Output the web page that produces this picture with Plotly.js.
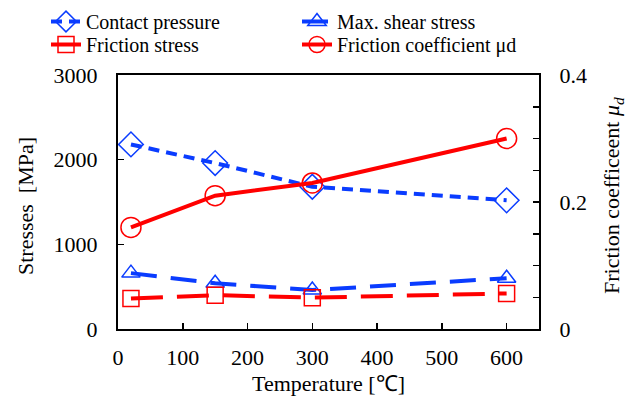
<!DOCTYPE html>
<html>
<head>
<meta charset="utf-8">
<script src="https://cdn.plot.ly/plotly-3.0.1.min.js"></script>
<style>html,body{margin:0;padding:0;background:#fff;}</style>
</head>
<body>
<div id="chart" style="width:638px;height:400px;"></div>
<script>
const temperature = [20, 150, 300, 600];
const contactPressure = [2180, 1960, 1680, 1520];
const maxShearStress = [660, 540, 460, 600];
const frictionStress = [360, 400, 370, 420];
const frictionCoefficient = [0.16, 0.21, 0.23, 0.30];
const xTicks = [0, 100, 200, 300, 400, 500, 600];

const blue = '#0a3cff';
const red = '#ff0000';
const FAM = 'Times New Roman';
function f(size) { return {family: FAM, size: size, color: '#000'}; }

const traces = [
  {x: temperature, y: contactPressure, name: 'Contact pressure', mode: 'lines+markers', legend: 'legend',
   line: {color: blue, width: 4, dash: '11px,7px'},
   marker: {symbol: 'diamond-open', size: 19, color: blue, line: {width: 1.5, color: blue}}},
  {x: temperature, y: maxShearStress, name: 'Max. shear stress', mode: 'lines+markers', legend: 'legend2',
   line: {color: blue, width: 4, dash: '26px,14px'},
   marker: {symbol: 'triangle-up-open', size: 16, color: blue, line: {width: 1.5, color: blue}}},
  {x: temperature, y: frictionStress, name: 'Friction stress', mode: 'lines+markers', legend: 'legend3',
   line: {color: red, width: 4, dash: '32px,14px'},
   marker: {symbol: 'square-open', size: 16, color: red, line: {width: 1.5, color: red}}},
  {x: temperature, y: frictionCoefficient, name: 'Friction coefficient μd', mode: 'lines+markers', yaxis: 'y2', legend: 'legend4',
   line: {color: red, width: 4},
   marker: {symbol: 'circle-open', size: 20, color: red, line: {width: 1.5, color: red}}}
];

function leg(xpx, ypx) {
  return {xref: 'container', yref: 'container', x: xpx / 638, y: 1 - ypx / 400, xanchor: 'left', yanchor: 'top',
          font: f(20), bgcolor: 'rgba(0,0,0,0)', borderwidth: 0};
}

const layout = {
  width: 638, height: 400,
  margin: {l: 118, r: 99, t: 75, b: 71, autoexpand: false},
  paper_bgcolor: '#fff', plot_bgcolor: '#fff',
  font: f(20),
  showlegend: true,
  legend: leg(46, 2),
  legend2: leg(297, 2),
  legend3: leg(46, 25),
  legend4: leg(297, 25),
  xaxis: {range: [0, 650], tickvals: xTicks, ticks: 'inside', ticklen: 6, tickwidth: 1.5, tickcolor: '#000',
          showline: true, linecolor: '#000', linewidth: 2, mirror: true, showgrid: false, zeroline: false,
          ticklabelstandoff: 8, tickfont: f(22)},
  yaxis: {range: [0, 3000], dtick: 1000, ticks: 'inside', ticklen: 6, tickwidth: 1.5, tickcolor: '#000',
          showline: true, linecolor: '#000', linewidth: 2, showgrid: false, zeroline: false,
          ticklabelstandoff: 14, tickfont: f(22)},
  yaxis2: {range: [0, 0.4], overlaying: 'y', side: 'right', tickvals: [0, 0.2, 0.4], ticktext: ['0', '0.2', '0.4'],
           ticks: 'inside', ticklen: 6, tickwidth: 1.5, tickcolor: '#000',
           minor: {dtick: 0.05, ticks: 'inside', ticklen: 6, tickwidth: 1.5, tickcolor: '#000'},
           showline: true, linecolor: '#000', linewidth: 2, showgrid: false, zeroline: false,
           ticklabelstandoff: 14, tickfont: f(22)},
  annotations: [
    {text: 'Temperature [℃]', xref: 'paper', yref: 'paper', x: 0.5, y: -0.213, xanchor: 'center', yanchor: 'middle',
     showarrow: false, font: f(22)},
    {text: 'Stresses  [MPa]', xref: 'paper', yref: 'paper', x: -0.221, y: 0.484, xanchor: 'center', yanchor: 'middle',
     textangle: -90, showarrow: false, font: f(22)},
    {text: 'Friction coefficeent <i>μ<sub>d</sub></i>', xref: 'paper', yref: 'paper', x: 1.176, y: 0.524,
     xanchor: 'center', yanchor: 'middle', textangle: -90, showarrow: false, font: f(22)}
  ]
};

Plotly.newPlot('chart', traces, layout, {displayModeBar: false, staticPlot: true});
</script>
</body>
</html>
